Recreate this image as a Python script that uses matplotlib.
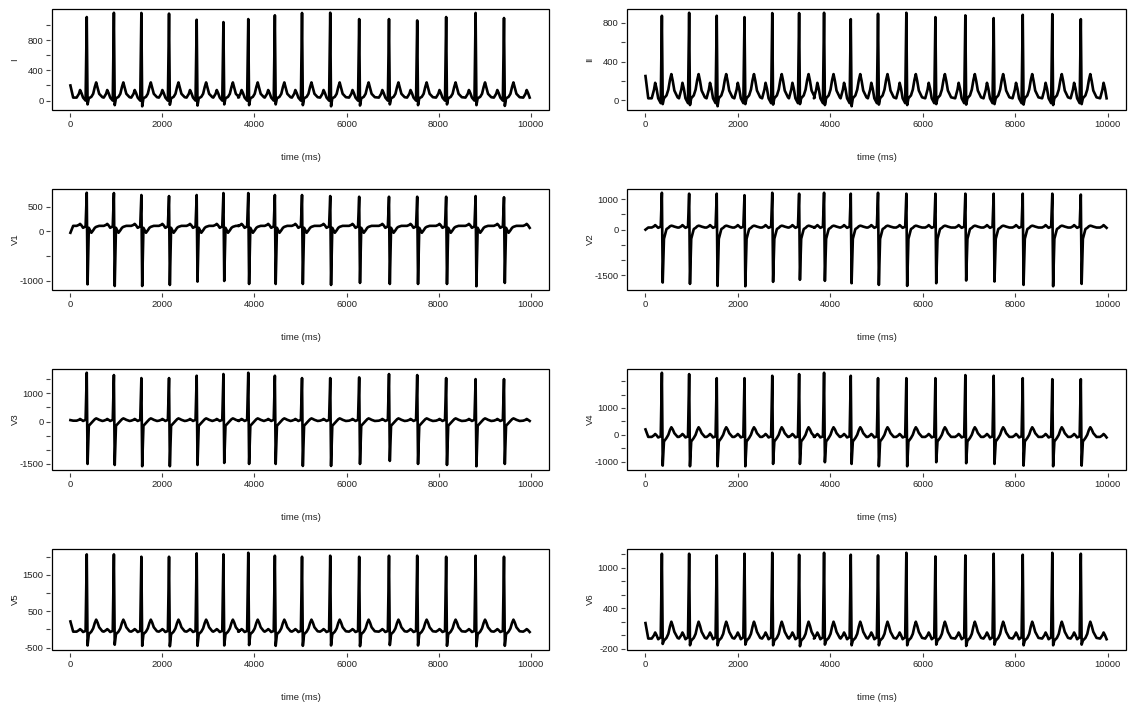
import matplotlib
matplotlib.use("Agg")
import matplotlib.pyplot as plt
from matplotlib.patches import Rectangle

plt.rcParams['font.family'] = ['Liberation Sans', 'DejaVu Sans']

# R-peak times (ms)
beat_times = [355, 945, 1542, 2143, 2744, 3325, 3865, 4443,
              5033, 5646, 6275, 6923, 7536, 8165, 8805, 9422]
next_beat = 10060

# knots of one heart beat, ms relative to the R peak
# baseline, P wave (3), PR, Q, R, S, J, ST, T wave (5), baseline
knot_offsets = [-220, -170, -145, -115, -80, -25, 0, 18, 45, 100,
                140, 175, 205, 235, 270, 340]

# lead I
I_start = 200
I_shape = [40, 90, 140, 100, 40, 0, None, None, 30, 50, 90, 180, 240, 170, 90, 45]
I_r = [1104, 1160, 1158, 1149, 1068, 1037, 1077, 1127,
       1158, 1161, 1077, 1077, 1059, 1104, 1158, 1091]
I_s = [-50, -60, -75, -55, -65, -50, -60, -50,
       -60, -75, -65, -50, -60, -50, -60, -70]

# lead II
II_start = 250
II_shape = [20, 110, 180, 120, 20, -30, None, None, 20, 50, 110, 210, 270, 200, 100, 30]
II_r = [873, 904, 873, 859, 901, 901, 904, 838,
        894, 904, 859, 877, 849, 883, 890, 838]
II_s = [-40, -50, -62, -40, -45, -40, -50, -62,
        -45, -50, -40, -45, -40, -45, -50, -40]

# lead V1
V1_start = -30
V1_shape = [110, 130, 150, 120, 70, 100, None, None, 70, -30, 20, 70, 90, 100, 110, 110]
V1_r = [781, 775, 735, 714, 735, 775, 775, 735,
        735, 714, 700, 700, 700, 700, 714, 690]
V1_s = [-1075, -1109, -1109, -1088, -1020, -1007, -1068, -1068,
        -1068, -1088, -1047, -1068, -1068, -1068, -1114, -1047]

# lead V2
V2_start = 0
V2_shape = [70, 110, 150, 110, 60, 100, None, None, -300, 20, 60, 110, 130, 120, 100, 70]
V2_r = [1210, 1180, 1180, 1130, 1210, 1180, 1210, 1180,
        1210, 1180, 1180, 1180, 1180, 1180, 1180, 1150]
V2_s = [-1733, -1778, -1844, -1855, -1711, -1644, -1678, -1756,
        -1811, -1844, -1756, -1667, -1700, -1811, -1855, -1778]

# lead V3
V3_start = 50
V3_shape = [30, 60, 90, 60, 20, 60, None, None, -150, -50, 20, 80, 110, 90, 60, 20]
V3_r = [1725, 1643, 1536, 1536, 1619, 1679, 1725, 1619,
        1536, 1536, 1560, 1679, 1643, 1536, 1500, 1500]
V3_s = [-1500, -1536, -1580, -1580, -1536, -1464, -1500, -1500,
        -1571, -1571, -1500, -1393, -1500, -1536, -1582, -1500]

# lead V4
V4_start = 200
V4_shape = [-80, -20, 30, -20, -100, -60, None, None, -250, -120, 0, 180, 280, 200, 60, -80]
V4_r = [2316, 2266, 2114, 2114, 2203, 2266, 2316, 2203,
        2114, 2114, 2114, 2228, 2203, 2114, 2076, 2076]
V4_s = [-1152, -1176, -1176, -1176, -1089, -1089, -1025, -1089,
        -1176, -1176, -1025, -1063, -1089, -1152, -1176, -1152]

# lead V5
V5_start = 220
V5_shape = [-60, -20, 10, -20, -70, -40, None, None, -130, -60, 30, 180, 270, 190, 60, -50]
V5_r = [2065, 2065, 2000, 2000, 2093, 2065, 2110, 2028,
        2000, 2028, 2000, 2028, 2028, 2000, 2028, 2000]
V5_s = [-440, -420, -450, -462, -450, -440, -430, -450,
        -450, -440, -460, -430, -440, -450, -462, -450]

# lead V6
V6_start = 180
V6_shape = [-50, 0, 40, 0, -60, -30, None, None, -80, -40, 20, 130, 200, 140, 50, -40]
V6_r = [1210, 1210, 1185, 1210, 1224, 1195, 1224, 1195,
        1185, 1224, 1170, 1185, 1210, 1195, 1224, 1210]
V6_s = [-130, -150, -150, -140, -150, -164, -140, -150,
        -150, -150, -140, -160, -140, -150, -150, -140]

# axis settings per panel (ylim, ticks, which ticks carry a label)
lead_names = ["I", "II", "V1", "V2", "V3", "V4", "V5", "V6"]
ylims = [(-124, 1210), (-101, 943), (-1190, 857), (-1978, 1333),
         (-1714, 1857), (-1316, 2456), (-565, 2213), (-220, 1280)]
yticks = [[0, 200, 400, 600, 800, 1000],
          [0, 200, 400, 600, 800],
          [-1000, -500, 0, 500],
          [-1500, -1000, -500, 0, 500, 1000],
          [-1500, -1000, -500, 0, 500, 1000, 1500],
          [-1000, -500, 0, 500, 1000, 1500, 2000],
          [-500, 0, 500, 1000, 1500, 2000],
          [-200, 0, 200, 400, 600, 800, 1000, 1200]]
ylabels_shown = [[0, 400, 800], [0, 400, 800], [-1000, 0, 500],
                 [-1500, 0, 1000], [-1500, 0, 1000], [-1000, 0, 1000],
                 [-500, 500, 1500], [-200, 400, 1000]]
xticks = [0, 2000, 4000, 6000, 8000, 10000]

leads = [(I_start, I_shape, I_r, I_s), (II_start, II_shape, II_r, II_s),
         (V1_start, V1_shape, V1_r, V1_s), (V2_start, V2_shape, V2_r, V2_s),
         (V3_start, V3_shape, V3_r, V3_s), (V4_start, V4_shape, V4_r, V4_s),
         (V5_start, V5_shape, V5_r, V5_s), (V6_start, V6_shape, V6_r, V6_s)]

r_idx = knot_offsets.index(0)
s_idx = r_idx + 1


def build_trace(start, shape, r, s):
    t = [0, 60]
    v = [start, shape[0]]
    for i, rt in enumerate(beat_times):
        for k, off in enumerate(knot_offsets):
            val = shape[k]
            if k == r_idx:
                val = r[i]
            elif k == s_idx:
                val = s[i]
            t.append(rt + off)
            v.append(val)
    # start of the beat that falls after the recording ends
    for k, off in enumerate(knot_offsets):
        if off < 0 and next_beat + off <= 10000:
            t.append(next_beat + off)
            v.append(shape[k])
    return t, v


W, H = 1128, 704
fig = plt.figure(figsize=(W / 100, H / 100), dpi=100)

col_left = [52, 627]
col_width = [497, 499]

for n in range(8):
    row = n // 2
    col = n % 2
    top = 9 + 180 * row
    ax = fig.add_axes([col_left[col] / W, 1 - (top + 101) / H,
                       col_width[col] / W, 101 / H])
    t, v = build_trace(*leads[n])
    ax.plot(t, v, color="black", linewidth=1.9)

    ax.set_xlim(-400, 10400)
    ax.set_ylim(*ylims[n])
    ax.set_xticks(xticks)
    ax.set_xticklabels([str(x) for x in xticks])
    ax.set_yticks(yticks[n])
    ax.set_yticklabels([str(y) if y in ylabels_shown[n] else "" for y in yticks[n]],
                       rotation=90, va="center")

    for sp in ax.spines.values():
        sp.set_color("none")
    ax.spines["bottom"].set_position(("outward", 2.2))
    ax.spines["left"].set_position(("outward", 1.5))
    ax.add_patch(Rectangle((0, 0), 1, 1, transform=ax.transAxes, fill=False,
                           edgecolor="black", linewidth=0.9, clip_on=False))

    ax.tick_params(axis="both", direction="out", length=3.2, width=0.8,
                   color="#444444", labelsize=6.8, labelcolor="#222222")
    ax.tick_params(axis="x", pad=2)
    ax.tick_params(axis="y", pad=1.5)

    ax.set_xlabel("time (ms)", fontsize=6.8, color="#222222")
    ax.xaxis.set_label_coords(0.5, -0.475)
    ax.xaxis.label.set_va("center")
    ax.set_ylabel(lead_names[n], fontsize=6.8, color="#222222")
    ax.yaxis.set_label_coords(-37 / col_width[col], 0.5)
    ax.yaxis.label.set_va("center")

fig.savefig("out.png", dpi=100)
